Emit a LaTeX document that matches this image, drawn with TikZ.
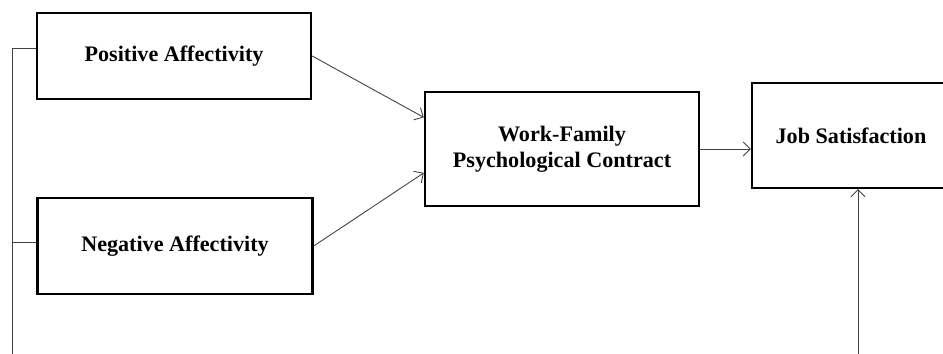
\documentclass[tikz,border=0pt]{standalone}
\usepackage{fontspec}
\setmainfont{Liberation Serif}
\usepackage{tikz}
\usetikzlibrary{positioning,arrows.meta}

\tikzset{
	factor/.style={draw, line width=1.4pt, align=center, font=\fontsize{12.6}{15}\selectfont\bfseries},
	link/.style={draw=black!75, line width=0.5pt, -{Straight Barb[length=4pt,width=8pt]}},
}

\begin{document}
\begin{tikzpicture}[x=0.02cm, y=-0.02cm]
\clip (0,0) rectangle (943,354); % picture frame

\node[factor, minimum width=274*0.02cm, minimum height=86*0.02cm] (PA) at (174,56) {Positive Affectivity}; % predictor 1
\node[factor, minimum width=275*0.02cm, minimum height=96*0.02cm] (NA) at (175,246) {Negative Affectivity}; % predictor 2
\node[factor, minimum width=274*0.02cm, minimum height=114*0.02cm] (WF) at (562,149) {Work-Family\\Psychological Contract}; % mediator
\node[factor, minimum width=198*0.02cm, minimum height=105*0.02cm] (JS) at (851,135.5) {Job Satisfaction}; % outcome

\coordinate (lft) at (12,354);
\coordinate (bot) at (858,354);

\draw[link] (PA.east) -- ([yshift=18pt]WF.west);
\draw[link] (NA.east) -- ([yshift=-13.6pt]WF.west);
\draw[link] (WF.east) -- (WF.east -| JS.west);
\draw[link] (bot) -- (bot |- JS.south);
\draw[draw=black!75, line width=0.5pt] ([yshift=4.5pt]PA.west) -- ([yshift=4.5pt]PA.west -| lft) -- (lft);
\draw[draw=black!75, line width=0.5pt] ([yshift=2pt]NA.west) -- ([yshift=2pt]NA.west -| lft);
\end{tikzpicture}
\end{document}
